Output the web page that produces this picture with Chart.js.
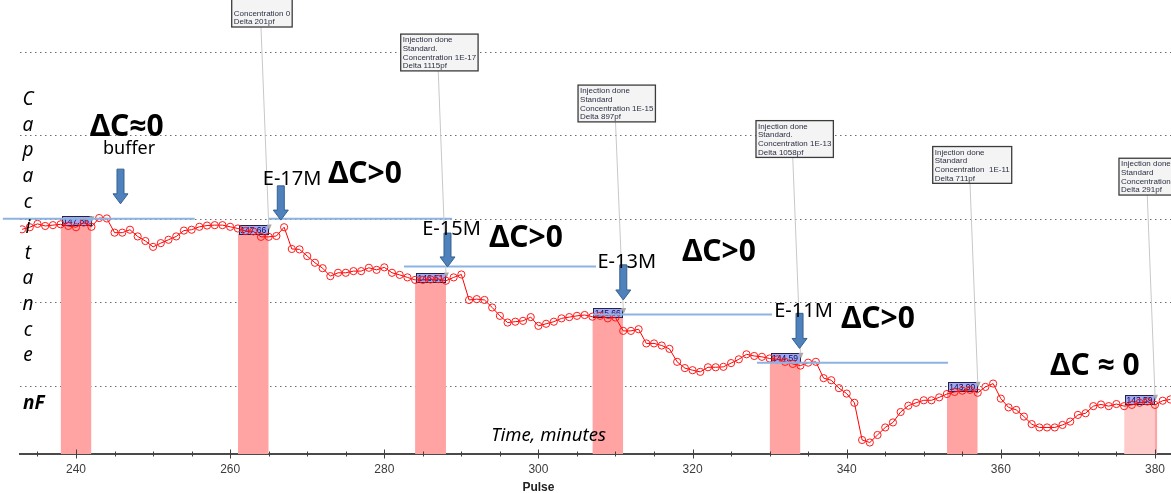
<!DOCTYPE html>
<html>
<head>
<meta charset="utf-8">
<title>Capacitance vs Pulse</title>
<script src="https://cdn.jsdelivr.net/npm/chart.js@4.4.1/dist/chart.umd.min.js"></script>
<style>
html,body{margin:0;padding:0;background:#ffffff;overflow:hidden;}
canvas{display:block;}
</style>
</head>
<body>
<canvas id="chart" width="1171" height="493"></canvas>
<script>
// ---------------- data ----------------
const pulse = [233,234,235,236,237,238,239,240,241,242,243,244,245,246,247,248,249,250,251,252,
  253,254,255,256,257,258,259,260,261,262,263,264,265,266,267,268,269,270,271,272,
  273,274,275,276,277,278,279,280,281,282,283,284,285,286,287,288,289,290,291,292,
  293,294,295,296,297,298,299,300,301,302,303,304,305,306,307,308,309,310,311,312,
  313,314,315,316,317,318,319,320,321,322,323,324,325,326,327,328,329,330,331,332,
  333,334,335,336,337,338,339,340,341,342,343,344,345,346,347,348,349,350,351,352,
  353,354,355,356,357,358,359,360,361,362,363,364,365,366,367,368,369,370,371,372,
  373,374,375,376,377,378,379,380,381,382];
const capacitance = [147.76,147.81,147.89,147.84,147.86,147.88,147.84,147.81,147.92,147.82,
  148.03,148.02,147.68,147.68,147.75,147.59,147.48,147.34,147.43,147.51,
  147.59,147.73,147.75,147.82,147.85,147.86,147.86,147.82,147.78,147.72,
  147.71,147.58,147.58,147.60,147.81,147.29,147.28,147.12,146.96,146.83,
  146.64,146.72,146.72,146.76,146.76,146.84,146.79,146.85,146.72,146.67,
  146.61,146.55,146.55,146.56,146.57,146.53,146.61,146.68,146.07,146.09,
  146.07,145.89,145.69,145.53,145.55,145.57,145.66,145.45,145.50,145.55,
  145.63,145.66,145.69,145.71,145.67,145.69,145.63,145.65,145.33,145.33,
  145.37,145.03,145.03,144.98,144.90,144.59,144.44,144.39,144.35,144.46,
  144.46,144.47,144.56,144.65,144.77,144.73,144.71,144.67,144.65,144.59,
  144.54,144.50,144.57,144.59,144.20,144.15,143.96,143.83,143.61,142.72,
  142.66,142.84,143.02,143.14,143.39,143.54,143.61,143.67,143.67,143.74,
  143.82,143.87,143.90,143.92,143.85,143.99,144.07,143.71,143.50,143.44,
  143.28,143.10,143.02,143.02,143.02,143.08,143.16,143.32,143.36,143.53,
  143.57,143.53,143.58,143.53,143.56,143.61,143.64,143.56,143.66,143.69];

const xTickLabels = [240,260,280,300,320,340,360,380];

// injection windows (pink bands) and their value labels
const bandStart = [238,261,284,307,330,353,376];
const bandEnd   = [242,265,288,311,334,357,380];
const bandValue = [147.86,147.66,146.51,145.66,144.59,143.90,143.59];
const bandLabels = ['147.86','147.66','146.51','145.66','144.59','143.90','143.59'];
const overlapStart = 379.2, overlapEnd = 380.3;

// injection note callouts (attached to bands 2..7)
const noteLines = [
  ['Injection done','Standard','Concentration 0','Delta 201pf'],
  ['Injection done','Standard.','Concentration 1E-17','Delta 1115pf'],
  ['Injection done','Standard','Concentration 1E-15','Delta 897pf'],
  ['Injection done','Standard.','Concentration 1E-13','Delta 1058pf'],
  ['Injection done','Standard','Concentration  1E-11','Delta 711pf'],
  ['Injection done','Standard','Concentration','Delta 291pf']
];
const noteLeft   = [260.20,282.13,305.14,328.23,351.16,375.33];
const noteBottom = [152.60,151.55,150.33,149.48,148.86,148.58];
const noteBand   = [1,2,3,4,5,6];

// hand-drawn annotations (data coordinates)
const deltaTexts = ['ΔC≈0','ΔC>0','ΔC>0','ΔC>0','ΔC>0','ΔC ≈ 0'];
const deltaX = [246.58,277.50,298.39,323.43,344.06,372.22];
const deltaY = [150.00,148.87,147.34,147.00,145.40,144.28];
const concTexts = ['E-17M','E-15M','E-13M','E-11M'];
const concX = [268.03,288.72,311.46,334.40];
const concY = [148.82,147.62,146.83,145.67];
const bufferText = 'buffer';
const bufferX = 246.88, bufferY = 149.56;
const arrowX      = [245.77,266.57,288.20,311.01,333.88];
const arrowTop    = [149.20,148.80,147.67,146.91,145.75];
const arrowBottom = [148.37,147.98,146.86,146.07,144.91];
const hlineStart = [230.50,265.04,282.56,307.08,328.36];
const hlineEnd   = [255.40,288.79,307.47,330.31,353.14];
const hlineY     = [148.01,148.01,146.87,145.72,144.57];

const yTitleText = 'Capacitance';
const yTitleX = 233.77, yTitleY = 150.73;
const unitText = 'nF';
const unitX = 233.12, unitY = 143.46;
const timeText = 'Time, minutes';
const timeX = 301.31, timeY = 142.70;
const xTitleText = 'Pulse';
const xTitleAt = 300;

// ---------------- datasets ----------------
const datasets = [];
hlineStart.forEach((s, i) => {
  datasets.push({
    data: [{x: s, y: hlineY[i]}, {x: hlineEnd[i], y: hlineY[i]}],
    borderColor: '#8db3e2', borderWidth: 2, pointRadius: 0, fill: false, clip: false
  });
});
const LINE_INDEX = datasets.length;
datasets.push({
  data: pulse.map((p, i) => ({x: p, y: capacitance[i]})),
  borderColor: '#ff0000', borderWidth: 1, tension: 0, fill: false,
  pointRadius: 3.6, pointBorderWidth: 1, pointBorderColor: '#ff1a1a',
  pointBackgroundColor: 'rgba(255,255,255,0)'
});
bandStart.forEach((s, i) => {
  datasets.push({
    data: [{x: s, y: bandValue[i]}, {x: bandEnd[i], y: bandValue[i]}],
    borderWidth: 0, pointRadius: 0, fill: 'start',
    backgroundColor: i === bandStart.length - 1 ? '#ffcaca' : '#ffa3a3'
  });
});
datasets.push({
  data: [{x: overlapStart, y: bandValue[6]}, {x: overlapEnd, y: bandValue[6]}],
  borderWidth: 0, pointRadius: 0, fill: 'start', backgroundColor: '#ffa3a3'
});

// ---------------- overlay plugin ----------------
const SANS = '"Noto Sans", "Open Sans", sans-serif';
function drawArrow(ctx, cx, top, bottom) {
  const shaftW = 7, headW = 15, headH = 10;
  ctx.beginPath();
  ctx.moveTo(cx - shaftW / 2, top);
  ctx.lineTo(cx + shaftW / 2, top);
  ctx.lineTo(cx + shaftW / 2, bottom - headH);
  ctx.lineTo(cx + headW / 2, bottom - headH);
  ctx.lineTo(cx, bottom);
  ctx.lineTo(cx - headW / 2, bottom - headH);
  ctx.lineTo(cx - shaftW / 2, bottom - headH);
  ctx.closePath();
  ctx.fillStyle = '#4f81bd';
  ctx.fill();
  ctx.strokeStyle = '#36618f';
  ctx.lineWidth = 1;
  ctx.stroke();
}

const overlay = {
  id: 'overlay',
  beforeDatasetDraw(chart, args) {
    if (args.index !== LINE_INDEX) return;
    const {ctx} = chart; const x = chart.scales.x, y = chart.scales.y;
    ctx.save();
    ctx.font = '8.5px "Liberation Sans", Arial, sans-serif';
    bandLabels.forEach((t, i) => {
      const cx = x.getPixelForValue((bandStart[i] + bandEnd[i]) / 2);
      const by = y.getPixelForValue(bandValue[i]);
      const w = Math.round(ctx.measureText(t).width + 3), h = 9;
      const lx = Math.round(cx - w / 2) + 0.5, ty = Math.round(by - h) + 0.5;
      ctx.fillStyle = '#a3a8f3';
      ctx.fillRect(lx, ty, w, h);
      ctx.strokeStyle = '#23234a'; ctx.lineWidth = 1;
      ctx.strokeRect(lx, ty, w, h);
      ctx.fillStyle = '#0b0b50';
      ctx.textAlign = 'center'; ctx.textBaseline = 'middle';
      ctx.fillText(t, cx, ty + h / 2 + 0.5);
      // small grey marker at the label's right end
      const ex = x.getPixelForValue(bandEnd[i]);
      ctx.fillStyle = '#a9a9a9';
      ctx.beginPath();
      ctx.moveTo(ex - 2, by - 9); ctx.lineTo(ex + 3, by - 9); ctx.lineTo(ex + 0.5, by - 3);
      ctx.closePath(); ctx.fill();
    });
    ctx.restore();
  },
  afterDatasetsDraw(chart) {
    const {ctx} = chart; const x = chart.scales.x, y = chart.scales.y;
    ctx.save();
    // leader lines + note boxes
    ctx.font = '8px "Liberation Sans", Arial, sans-serif';
    const rowH = 8.7;
    noteLines.forEach((rows, i) => {
      const b = noteBand[i];
      const left = x.getPixelForValue(noteLeft[i]);
      const bottom = y.getPixelForValue(noteBottom[i]);
      ctx.strokeStyle = '#c8c8c8'; ctx.lineWidth = 1;
      ctx.beginPath();
      ctx.moveTo(x.getPixelForValue(bandEnd[b] - 1), bottom);
      ctx.lineTo(x.getPixelForValue(bandEnd[b]), y.getPixelForValue(bandValue[b]) - 9);
      ctx.stroke();
      const h = rows.length * rowH + 2;
      const top = bottom - h;
      const w = Math.max(...rows.map(r => ctx.measureText(r).width)) + 4;
      ctx.fillStyle = '#f4f4f4';
      ctx.fillRect(left, top, w, h);
      ctx.strokeStyle = '#3c3c3c'; ctx.lineWidth = 1.3;
      ctx.strokeRect(left, top, w, h);
      ctx.fillStyle = '#2c3042';
      ctx.textAlign = 'left'; ctx.textBaseline = 'middle';
      rows.forEach((r, k) => {
        const ty = top + 1 + rowH * k + rowH / 2;
        if (ty > 8) ctx.fillText(r, left + 2, ty + 0.5);
      });
    });
    // arrows
    arrowX.forEach((ax, i) => {
      drawArrow(ctx, x.getPixelForValue(ax), y.getPixelForValue(arrowTop[i]), y.getPixelForValue(arrowBottom[i]));
    });
    // big delta texts
    ctx.fillStyle = '#000000';
    ctx.textAlign = 'center'; ctx.textBaseline = 'alphabetic';
    ctx.font = 'bold 30px ' + SANS;
    deltaTexts.forEach((t, i) => ctx.fillText(t, x.getPixelForValue(deltaX[i]), y.getPixelForValue(deltaY[i])));
    ctx.font = '20px ' + SANS;
    concTexts.forEach((t, i) => ctx.fillText(t, x.getPixelForValue(concX[i]), y.getPixelForValue(concY[i])));
    ctx.font = '18px ' + SANS;
    ctx.fillText(bufferText, x.getPixelForValue(bufferX), y.getPixelForValue(bufferY));
    ctx.font = 'italic 18.5px ' + SANS;
    ctx.fillText(timeText, x.getPixelForValue(timeX), y.getPixelForValue(timeY));
    // vertical axis title, letters stacked
    ctx.font = 'italic 19px ' + SANS;
    const vx = x.getPixelForValue(yTitleX);
    const vy = y.getPixelForValue(yTitleY);
    yTitleText.split('').forEach((ch, k) => ctx.fillText(ch, vx, vy + k * 25.6));
    ctx.font = 'italic bold 19px ' + SANS;
    ctx.textAlign = 'left';
    ctx.fillText(unitText, x.getPixelForValue(unitX), y.getPixelForValue(unitY));
    ctx.restore();
  },
  afterDraw(chart) {
    const {ctx, chartArea} = chart; const x = chart.scales.x;
    ctx.save();
    const yb = chartArea.bottom;
    ctx.strokeStyle = '#404040'; ctx.lineWidth = 1;
    x.ticks.forEach(t => {
      const px = Math.round(x.getPixelForValue(t.value)) + 0.5;
      const a = xTickLabels.includes(t.value) ? 4.5 : 2.5;
      ctx.beginPath(); ctx.moveTo(px, yb - a); ctx.lineTo(px, yb + a); ctx.stroke();
    });
    ctx.fillStyle = '#222222';
    ctx.font = 'bold 12px "Liberation Sans", Arial, sans-serif';
    ctx.textAlign = 'center'; ctx.textBaseline = 'middle';
    ctx.fillText(xTitleText, x.getPixelForValue(xTitleAt), yb + 34);
    ctx.restore();
  }
};

new Chart(document.getElementById('chart'), {
  type: 'line',
  data: {datasets},
  options: {
    responsive: false,
    animation: false,
    events: [],
    layout: {padding: 0, autoPadding: false},
    plugins: {legend: {display: false}, tooltip: {enabled: false}, title: {display: false}},
    scales: {
      x: {
        type: 'linear', min: 232.73, max: 382.08,
        ticks: {
          stepSize: 5, includeBounds: false, autoSkip: false, maxRotation: 0, padding: 3,
          color: '#3c3c3c', font: {family: '"Liberation Sans", Arial, sans-serif', size: 12},
          callback: v => xTickLabels.includes(v) ? String(v) : ''
        },
        grid: {drawOnChartArea: false, tickLength: 5, tickColor: 'rgba(0,0,0,0)'},
        border: {color: '#4a4a4a', width: 2},
        afterFit: s => { s.height = 39; }
      },
      y: {
        type: 'linear', min: 142.385, max: 153.246,
        ticks: {display: false, stepSize: 2, includeBounds: false},
        grid: {color: '#6e6e6e', lineWidth: 1, drawTicks: false},
        border: {display: false, dash: [1.5, 3.5]},
        afterFit: s => { s.width = 20; }
      }
    }
  },
  plugins: [overlay]
});
</script>
</body>
</html>
